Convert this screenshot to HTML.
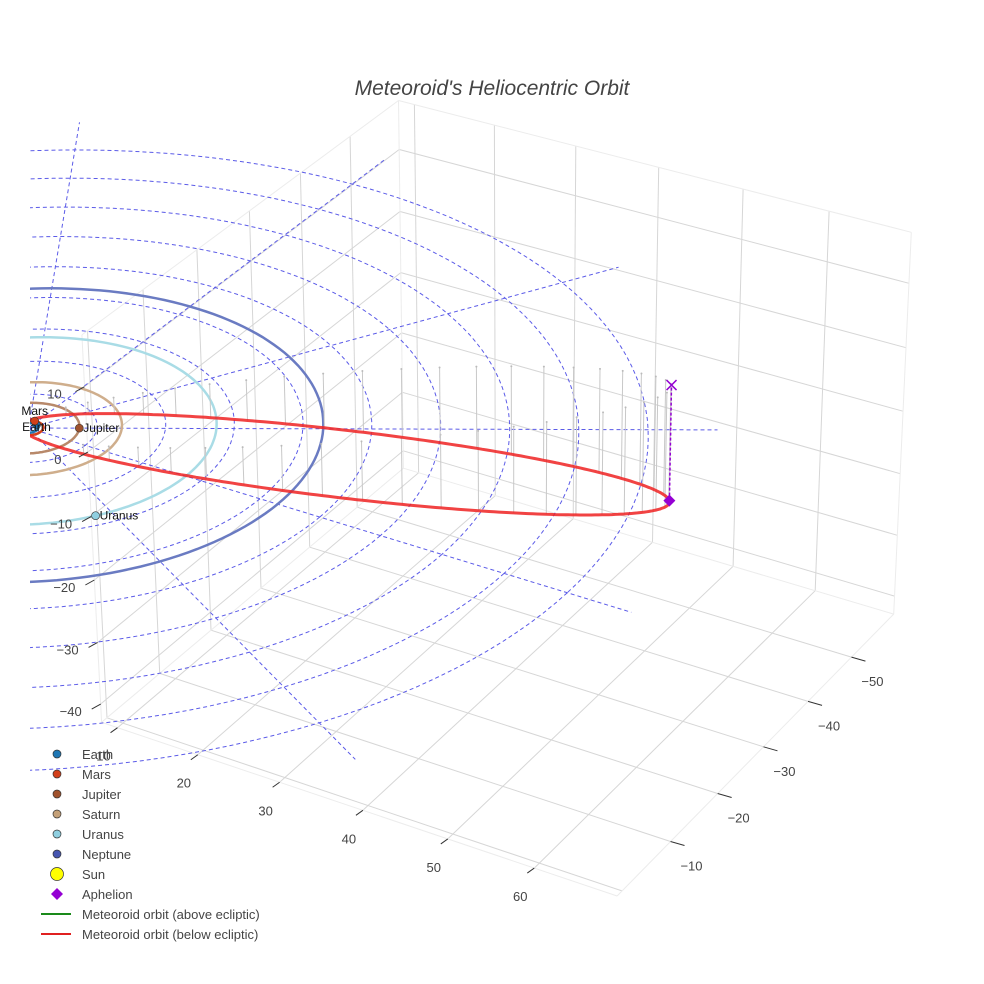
<!DOCTYPE html>
<html><head><meta charset="utf-8"><style>
html,body{margin:0;padding:0;background:#fff;}
svg{display:block;font-family:"Liberation Sans",Arial,sans-serif;}
</style></head><body>
<svg id="chart" width="984" height="984" viewBox="0 0 984 984">
<defs><clipPath id="sceneClip"><rect x="30" y="0" width="954" height="984"/></clipPath></defs>
<text x="492" y="95" text-anchor="middle" font-size="21" font-style="italic" fill="#444">Meteoroid's Heliocentric Orbit</text>
<g id="scene" clip-path="url(#sceneClip)"></g>
<g id="labels"></g>
<g id="legend"></g>
</svg>
<script>
// ---- data ----
const xTicks = [10, 20, 30, 40, 50, 60];
const yTicks = [-10, -20, -30, -40, -50];
const zTicks = [-40, -30, -20, -10, 0, 10];
const planetNames = ["Earth", "Mars", "Jupiter", "Saturn", "Uranus", "Neptune"];
const planetRadii = [1.0, 1.52, 5.2, 9.54, 19.2, 30.07];
const planetAnglesDeg = [-70, -100, -30, 160, 35, 170];
const labelCentered = [true, true, false, false, false, false];
const labelDy = [6, -6, 4, 4, 4, 4];
const ringRadii = [7, 14, 21, 28, 35, 42, 49, 56, 63];
const spokeAnglesDeg = [0, 30, 60, 90, 120, 150, 180, 210, 240, 270, 300, 330];
const spokeLength = [70];
const aphelionXYZ = [52.2, -40.8, -18.2];
const eccentricity = [0.978];
const minorDirGuess = [0.62, 0.78, 0.0];

// box ranges
const XR = [8, 69.4], YR = [-60, 1], ZR = [-43, 17.8];
// calibration correspondences (world -> screen)
const cal = [
 [10,1,-43,116,729],[20,1,-43,196,756],[30,1,-43,280,783],[40,1,-43,364,810],[50,1,-43,450,838],[60,1,-43,537,867],
 [69.4,-10,-43,668,843],[69.4,-20,-43,716,795],[69.4,-30,-43,763,747],[69.4,-40,-43,807,702],[69.4,-50,-43,851,657],[69.4,-60,-43,895,612],
 [8,1,10,86,384],[8,1,0,90,450],[8,1,-10,93,516],[8,1,-20,96,579],[8,1,-30,98,642],[8,1,-40,100,704],
 [8,-60,17.8,400,101],[69.4,-60,17.8,912,232],[8,-60,-43,403,468],
 [8,0,17.8,82,333],[8,-30,17.8,248,213]
];
function solve(A,b){const n=b.length;for(let i=0;i<n;i++){let m=i;for(let k=i+1;k<n;k++)if(Math.abs(A[k][i])>Math.abs(A[m][i]))m=k;[A[i],A[m]]=[A[m],A[i]];[b[i],b[m]]=[b[m],b[i]];for(let k=i+1;k<n;k++){const f=A[k][i]/A[i][i];for(let j=i;j<n;j++)A[k][j]-=f*A[i][j];b[k]-=f*b[i];}}const x=new Array(n).fill(0);for(let i=n-1;i>=0;i--){let s=b[i];for(let j=i+1;j<n;j++)s-=A[i][j]*x[j];x[i]=s/A[i][i];}return x;}
const NA=[],NB=[];for(let i=0;i<11;i++){NA.push(new Array(11).fill(0));NB.push(0);}
cal.forEach(c=>{const X=c[0]/100,Y=c[1]/100,Z=c[2]/100,u=c[3]/1000,v=c[4]/1000;
 const rows=[[X,Y,Z,1,0,0,0,0,-u*X,-u*Y,-u*Z,u],[0,0,0,0,X,Y,Z,1,-v*X,-v*Y,-v*Z,v]];
 rows.forEach(r=>{for(let i=0;i<11;i++){for(let j=0;j<11;j++)NA[i][j]+=r[i]*r[j];NB[i]+=r[i]*r[11];}});});
const P=solve(NA,NB);
function proj(x,y,z){const X=x/100,Y=y/100,Z=z/100;const w=P[8]*X+P[9]*Y+P[10]*Z+1;
 return [(P[0]*X+P[1]*Y+P[2]*Z+P[3])/w*1000,(P[4]*X+P[5]*Y+P[6]*Z+P[7])/w*1000];}
function pathOf(pts){return pts.map((p,i)=>(i?'L':'M')+p[0].toFixed(1)+' '+p[1].toFixed(1)).join('');}
const NS='http://www.w3.org/2000/svg';
const scene=document.getElementById('scene'),labels=document.getElementById('labels'),legend=document.getElementById('legend');
function mk(parent,tag,attrs){const e=document.createElementNS(NS,tag);for(const k in attrs)e.setAttribute(k,attrs[k]);parent.appendChild(e);return e;}
function line3(a,b,stroke,w,name,dash){const el=mk(scene,'path',{d:pathOf([proj(...a),proj(...b)]),stroke:stroke,'stroke-width':w,fill:'none'});if(dash)el.setAttribute('stroke-dasharray',dash);
 
 
 return el;}
const GC='#d6d6d6',EC='#ececec';
xTicks.forEach(x=>line3([x,YR[0],ZR[0]],[x,YR[1],ZR[0]],GC,1,'floor-grid-x'));
[0].concat(yTicks).forEach(y=>line3([XR[0],y,ZR[0]],[XR[1],y,ZR[0]],GC,1,'floor-grid-y'));
xTicks.forEach(x=>line3([x,YR[0],ZR[0]],[x,YR[0],ZR[1]],GC,1,'back-wall-grid-x'));
zTicks.forEach(z=>line3([XR[0],YR[0],z],[XR[1],YR[0],z],GC,1,'back-wall-grid-z'));
[0].concat(yTicks).forEach(y=>line3([XR[0],y,ZR[0]],[XR[0],y,ZR[1]],GC,1,'left-wall-grid-y'));
zTicks.forEach(z=>line3([XR[0],YR[0],z],[XR[0],YR[1],z],GC,1,'left-wall-grid-z'));
[[[XR[0],YR[1],ZR[0]],[XR[1],YR[1],ZR[0]]],[[XR[1],YR[1],ZR[0]],[XR[1],YR[0],ZR[0]]],[[XR[0],YR[0],ZR[0]],[XR[1],YR[0],ZR[0]]],[[XR[0],YR[0],ZR[0]],[XR[0],YR[1],ZR[0]]],
 [[XR[0],YR[0],ZR[1]],[XR[1],YR[0],ZR[1]]],[[XR[0],YR[0],ZR[1]],[XR[0],YR[1],ZR[1]]],[[XR[1],YR[0],ZR[0]],[XR[1],YR[0],ZR[1]]],[[XR[0],YR[0],ZR[0]],[XR[0],YR[0],ZR[1]]],[[XR[0],YR[1],ZR[0]],[XR[0],YR[1],ZR[1]]]]
 .forEach(e=>line3(e[0],e[1],EC,1,'box-edge'));
const DC='#5b5be8';
ringRadii.forEach(r=>{const pts=[];for(let t=0;t<=360;t+=2){const a=t*Math.PI/180;pts.push(proj(r*Math.cos(a),r*Math.sin(a),0));}
 const el=mk(scene,'path',{d:pathOf(pts),stroke:DC,'stroke-width':1,fill:'none','stroke-dasharray':'4,3'});
 
 });
spokeAnglesDeg.forEach(d=>{const a=d*Math.PI/180;line3([0,0,0],[spokeLength[0]*Math.cos(a),spokeLength[0]*Math.sin(a),0],DC,1,'ecliptic-spoke','4,3');});
const orbitColors=['#1f77b4','#d2401a','#b8896a','#cfae8c','#a9dce6','#6a7bc2'];
const markerColors=['#1f6fb0','#d2401a','#a0522d','#c4a078','#8fcfe0','#4656b0'];
planetRadii.forEach((r,i)=>{const pts=[];for(let t=0;t<=360;t+=2){const a=t*Math.PI/180;pts.push(proj(r*Math.cos(a),r*Math.sin(a),0));}
 const el=mk(scene,'path',{d:pathOf(pts),stroke:orbitColors[i],'stroke-width':2.5,fill:'none'});
 
 });
const aphR=Math.hypot(...aphelionXYZ);
const Pd=aphelionXYZ.map(v=>-v/aphR);
let dq=minorDirGuess.reduce((s,v,i)=>s+v*Pd[i],0);
let Qd=minorDirGuess.map((v,i)=>v-dq*Pd[i]);const qn=Math.hypot(...Qd);Qd=Qd.map(v=>v/qn);
const e0=eccentricity[0],a0=aphR/(1+e0),b0=a0*Math.sqrt(1-e0*e0);
function orbitPt(E){const c=a0*(Math.cos(E)-e0),s=b0*Math.sin(E);return [c*Pd[0]+s*Qd[0],c*Pd[1]+s*Qd[1],c*Pd[2]+s*Qd[2]];}
for(let d=0;d<360;d+=7){const p=orbitPt(d*Math.PI/180);if(Math.abs(p[2])<1)continue;
 line3(p,[p[0],p[1],0],'#c8c8c8',1,'projection-stem');
 const t=proj(p[0],p[1],0);const c=mk(scene,'circle',{cx:t[0],cy:t[1],r:1,fill:'#bbb'});
 
 }
const below=[];
for(let d=0;d<=360;d+=1){const p=orbitPt(d*Math.PI/180);below.push(proj(...p));}
const red=mk(scene,'path',{d:pathOf(below),stroke:'#ee2222','stroke-opacity':0.85,'stroke-width':3,fill:'none'});


const aphS=proj(...aphelionXYZ),aphP=proj(aphelionXYZ[0],aphelionXYZ[1],0);
const al=mk(scene,'path',{d:pathOf([aphS,aphP]),stroke:'#9400d3','stroke-width':1.5,'stroke-dasharray':'3,2',fill:'none'});


const ax=mk(scene,'path',{d:`M${aphP[0]-5} ${aphP[1]-5}L${aphP[0]+5} ${aphP[1]+5}M${aphP[0]+5} ${aphP[1]-5}L${aphP[0]-5} ${aphP[1]+5}`,stroke:'#9400d3','stroke-width':1.5});


const ad=mk(scene,'path',{d:`M${aphS[0]} ${aphS[1]-6}L${aphS[0]+6} ${aphS[1]}L${aphS[0]} ${aphS[1]+6}L${aphS[0]-6} ${aphS[1]}Z`,fill:'#9400d3'});


planetRadii.forEach((r,i)=>{const a=planetAnglesDeg[i]*Math.PI/180;const p=proj(r*Math.cos(a),r*Math.sin(a),0);
 const c=mk(scene,'circle',{cx:p[0],cy:p[1],r:4,fill:markerColors[i],stroke:'#333','stroke-width':0.6});
 
 
 if(p[0]>-20&&p[0]<984){const t=labelCentered[i]?mk(labels,'text',{x:p[0],y:p[1]+labelDy[i],'font-size':12,fill:'#111','text-anchor':'middle'}):mk(labels,'text',{x:p[0]+4,y:p[1]+labelDy[i],'font-size':12,fill:'#111'});t.textContent=planetNames[i];
 
 }});
function tick(pt,dx,dy,lx,ly,txt,name){mk(labels,'path',{d:`M${pt[0]} ${pt[1]}l${dx} ${dy}`,stroke:'#333','stroke-width':1});
 const t=mk(labels,'text',{x:pt[0]+lx,y:pt[1]+ly,'font-size':13,fill:'#444','text-anchor':'middle'});t.textContent=txt;
 
 }
const fmt=v=>v<0?'\u2212'+Math.abs(v):String(v);
xTicks.forEach(x=>tick(proj(x,YR[1],ZR[0]),-7,5,-14,33,fmt(x),'x-tick-label'));
yTicks.forEach(y=>tick(proj(XR[1],y,ZR[0]),14,4,21,29,fmt(y),'y-tick-label'));
zTicks.forEach(z=>tick(proj(XR[0],YR[1],z),-9,5,-30,12,fmt(z),'z-tick-label'));
const legItems=[['Earth','c','#1f77b4',6],['Mars','c','#d2401a',6],['Jupiter','c','#a0522d',6],['Saturn','c','#c4a078',6],['Uranus','c','#8fcfe0',6],['Neptune','c','#4656b0',6],['Sun','c','#ffff00',11],['Aphelion','d','#9400d3',0],['Meteoroid orbit (above ecliptic)','l','#1a8a1a',0],['Meteoroid orbit (below ecliptic)','l','#e02020',0]];
legItems.forEach((it,i)=>{const y=754+i*20;const g=mk(legend,'g',{});
 
 
 if(it[1]==='c')mk(g,'circle',{cx:57,cy:y,r:it[3]/2+1,fill:it[2],stroke:'#333','stroke-width':0.7});
 else if(it[1]==='d')mk(g,'path',{d:`M57 ${y-6}L63 ${y}L57 ${y+6}L51 ${y}Z`,fill:it[2]});
 else mk(g,'path',{d:`M41 ${y}H71`,stroke:it[2],'stroke-width':2});
 const t=mk(g,'text',{x:82,y:y+5,'font-size':13,fill:'#444'});t.textContent=it[0];});
</script>
</body></html>
